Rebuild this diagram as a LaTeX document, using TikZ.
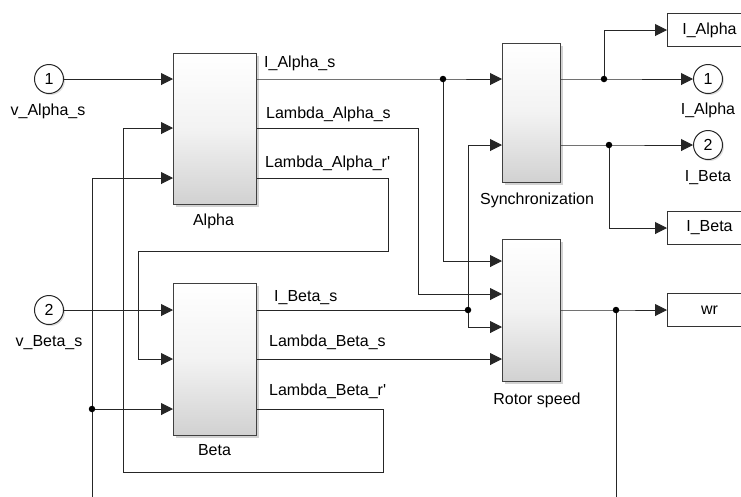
\documentclass[tikz,border=0pt]{standalone}
\usepackage{fontspec}
\setmainfont{Liberation Sans}
\usetikzlibrary{arrows.meta,shadows,calc}

\tikzset{
  wire/.style={draw=black!85, line width=1pt},
  sig/.style={wire, -{Triangle[length=12pt,width=12pt]}},
  junc/.style={circle, fill=black, inner sep=0pt, minimum size=6.5pt},
  blk/.style={draw=black!75, line width=1.3pt, anchor=north west,
    top color=white, bottom color=black!18, middle color=white!95!black,
    drop shadow={shadow xshift=2pt, shadow yshift=-2pt, fill=black!35, opacity=0.5}},
  port/.style={circle, draw=black!85, line width=1pt, fill=white,
    minimum size=29pt, inner sep=0pt,
    drop shadow={shadow xshift=1.5pt, shadow yshift=-1.5pt, fill=black!30, opacity=0.4}},
  gototag/.style={draw=black!80, line width=1pt, fill=white, anchor=west,
    minimum width=84pt, minimum height=33pt, inner sep=0pt},
  lbl/.style={inner sep=0pt, text=black},
}

\begin{document}
\begin{tikzpicture}[x=1pt, y=-1pt, font=\fontsize{16}{19}\selectfont]
\useasboundingbox (0,0) rectangle (741,496);
\clip (0,0) rectangle (741,496);

% subsystem blocks
\node[blk, minimum width=83pt, minimum height=151pt] (alpha) at (173,53) {};
\node[blk, minimum width=83pt, minimum height=152pt] (beta) at (173,283) {};
\node[blk, minimum width=58pt, minimum height=139pt] (sync) at (502,43) {};
\node[blk, minimum width=58pt, minimum height=142pt] (rotor) at (502,239) {};

\node[lbl, anchor=base] at (213.5,225) {Alpha};
\node[lbl, anchor=base] at (214.5,455) {Beta};
\node[lbl, anchor=base] at (537,204) {Synchronization};
\node[lbl, anchor=base] at (537,404) {Rotor speed};

% inports
\node[port] (in1) at (49,79) {1};
\node[lbl, anchor=base] at (48,115.5) {v\_Alpha\_s};
\node[port] (in2) at (49,310) {2};
\node[lbl, anchor=base] at (49,346.5) {v\_Beta\_s};

% outports
\node[port] (out1) at (708,79) {1};
\node[lbl, anchor=base] at (708,114.5) {I\_Alpha};
\node[port] (out2) at (708,145) {2};
\node[lbl, anchor=base] at (708,181) {I\_Beta};

% goto tags
\node[gototag] (gia) at (667,30) {I\_Alpha};
\node[gototag] (gib) at (667,228) {I\_Beta};
\node[gototag] (gwr) at (667,310) {wr};

% output labels of the subsystems
\node[lbl, anchor=base west] at (264,67) {I\_Alpha\_s};
\node[lbl, anchor=base west] at (266,118.3) {Lambda\_Alpha\_s};
\node[lbl, anchor=base west] at (265,167.3) {Lambda\_Alpha\_r\textquotesingle};
\node[lbl, anchor=base west] at (274,301.7) {I\_Beta\_s};
\node[lbl, anchor=base west] at (269,346) {Lambda\_Beta\_s};
\node[lbl, anchor=base west] at (269,395.3) {Lambda\_Beta\_r\textquotesingle};

% branch points
\coordinate (ja) at (443,79);
\coordinate (jb) at (468,310);
\coordinate (jc) at (92,409);
\coordinate (jd) at (604,79);
\coordinate (je) at (609,145);
\coordinate (jf) at (616,310);
\coordinate (bl) at (92,500);
\coordinate (br) at (616,500);

% inputs of Alpha and Beta
\draw[sig] (in1.east) -- (in1 -| alpha.west);
\draw[sig] (in2.east) -- (in2 -| beta.west);

% I_Alpha_s
\draw[sig] (alpha.east |- ja) -- (ja) -- (ja -| sync.west);
\draw[sig] (ja) -- (443,261) -- (rotor.west |- 0,261);

% Lambda_Alpha_s
\draw[sig] (alpha.east |- 0,128) -- (418,128) -- (418,294) -- (rotor.west |- 0,294);

% Lambda_Alpha_r' fed back to Beta
\draw[sig] (alpha.east |- 0,178) -- (388,178) -- (388,251) -- (138,251) -- (138,359) -- (beta.west |- 0,359);

% I_Beta_s
\draw[wire] (beta.east |- jb) -- (jb);
\draw[sig] (jb) -- (468,145) -- (sync.west |- 0,145);
\draw[sig] (jb) -- (468,327) -- (rotor.west |- 0,327);

% Lambda_Beta_s
\draw[sig] (beta.east |- 0,359) -- (rotor.west |- 0,359);

% Lambda_Beta_r' fed back to Alpha
\draw[sig] (beta.east |- 0,409) -- (383,409) -- (383,472) -- (123,472) -- (123,128) -- (alpha.west |- 0,128);

% common signal from below
\draw[sig] (bl) -- (92,178) -- (alpha.west |- 0,178);
\draw[sig] (jc) -- (jc -| beta.west);

% synchronization outputs
\draw[sig] (sync.east |- jd) -- (jd) -- (out1.west);
\draw[sig] (jd) -- (jd |- gia) -- (gia.west);
\draw[sig] (sync.east |- je) -- (je) -- (out2.west);
\draw[sig] (je) -- (je |- gib) -- (gib.west);

% rotor speed output
\draw[sig] (rotor.east |- jf) -- (jf) -- (gwr.west);
\draw[wire] (jf) -- (br);

% junction dots
\foreach \j in {ja,jb,jc,jd,je,jf} \node[junc] at (\j) {};
\end{tikzpicture}
\end{document}
